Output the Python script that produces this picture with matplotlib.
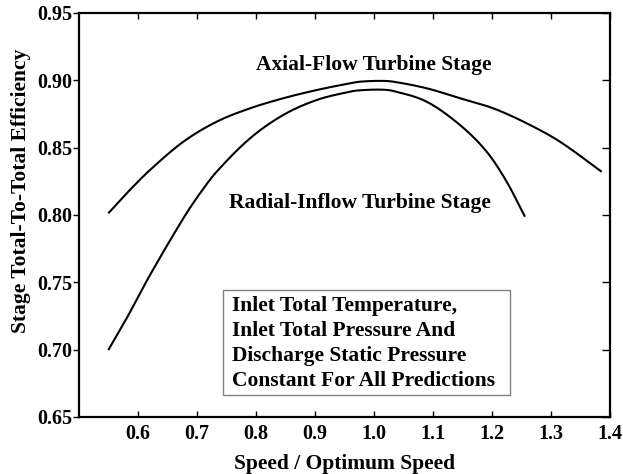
import matplotlib
matplotlib.use("Agg")
import matplotlib.pyplot as plt
from matplotlib.patches import Rectangle
import numpy as np

plt.rcParams['font.family'] = ['Liberation Serif', 'DejaVu Serif']
plt.rcParams['font.weight'] = 'bold'

# Stage efficiency vs. normalised speed
axial_speed = [0.5497, 0.5808, 0.6203, 0.6768, 0.7334, 0.7898, 0.8463, 0.9029, 0.9593,
               0.9763, 1.0102, 1.0327, 1.0893, 1.1458, 1.2022, 1.2588, 1.3153, 1.3859]
axial_eff = [0.8013, 0.8161, 0.8334, 0.8544, 0.8693, 0.8792, 0.8867, 0.8928, 0.8978,
             0.8990, 0.8996, 0.8990, 0.8941, 0.8867, 0.8792, 0.8681, 0.8544, 0.8321]

radial_speed = [0.5497, 0.5808, 0.6203, 0.6768, 0.7051, 0.7334, 0.7898, 0.8463, 0.9029,
                0.9593, 0.9763, 1.0102, 1.0327, 1.0893, 1.1458, 1.1910, 1.2249, 1.2559]
radial_eff = [0.6997, 0.7233, 0.7554, 0.7975, 0.8161, 0.8322, 0.8569, 0.8743, 0.8854,
              0.8916, 0.8926, 0.8931, 0.8921, 0.8841, 0.8668, 0.8470, 0.8247, 0.7987]

x_ticks = [0.6, 0.7, 0.8, 0.9, 1.0, 1.1, 1.2, 1.3, 1.4]
x_tick_labels = ["0.6", "0.7", "0.8", "0.9", "1.0", "1.1", "1.2", "1.3", "1.4"]
y_ticks = [0.65, 0.70, 0.75, 0.80, 0.85, 0.90, 0.95]
y_tick_labels = ["0.65", "0.70", "0.75", "0.80", "0.85", "0.90", "0.95"]

note_lines = ["Inlet Total Temperature,",
              "Inlet Total Pressure And",
              "Discharge Static Pressure",
              "Constant For All Predictions"]


def smooth(xs, ys):
    # cubic Hermite path through the points, for a smooth pen stroke
    xs = np.asarray(xs, float)
    ys = np.asarray(ys, float)
    m = np.zeros_like(ys)
    m[1:-1] = (ys[2:] - ys[:-2]) / (xs[2:] - xs[:-2])
    m[0] = (ys[1] - ys[0]) / (xs[1] - xs[0])
    m[-1] = (ys[-1] - ys[-2]) / (xs[-1] - xs[-2])
    xo, yo = [], []
    for i in range(len(xs) - 1):
        h = xs[i + 1] - xs[i]
        t = np.linspace(0, 1, 20, endpoint=(i == len(xs) - 2))
        h00 = 2 * t**3 - 3 * t**2 + 1
        h10 = t**3 - 2 * t**2 + t
        h01 = -2 * t**3 + 3 * t**2
        h11 = t**3 - t**2
        xo.append(xs[i] + t * h)
        yo.append(h00 * ys[i] + h10 * h * m[i] + h01 * ys[i + 1] + h11 * h * m[i + 1])
    return np.concatenate(xo), np.concatenate(yo)


fig = plt.figure(figsize=(6.23, 4.74), dpi=100)
ax = fig.add_axes([79 / 623, 1 - 417 / 474, (610 - 79) / 623, (417 - 13) / 474])

ax.plot(*smooth(axial_speed, axial_eff), color='black', lw=1.5, solid_capstyle='butt')
ax.plot(*smooth(radial_speed, radial_eff), color='black', lw=1.5, solid_capstyle='butt')

ax.set_xlim(0.5, 1.4)
ax.set_ylim(0.65, 0.95)
ax.set_xticks(x_ticks)
ax.set_xticklabels(x_tick_labels)
ax.set_yticks(y_ticks)
ax.set_yticklabels(y_tick_labels)

for s in ax.spines.values():
    s.set_linewidth(1.6)

ax.tick_params(axis='x', direction='in', top=True, length=4.5, width=1, labelsize=14.5, pad=5)
ax.tick_params(axis='y', direction='out', right=False, length=4.5, width=1, labelsize=14.5, pad=0.5)

sec = ax.secondary_yaxis('right')
sec.set_yticks(y_ticks)
sec.tick_params(direction='in', length=6, width=1, labelright=False)
sec.spines['right'].set_visible(False)

for lbl in ax.get_xticklabels() + ax.get_yticklabels():
    lbl.set_fontweight('bold')

ax.set_xlabel("Speed / Optimum Speed", fontsize=15.5, fontweight='bold', va='top')
ax.xaxis.set_label_coords(0.5, -0.092)
ax.set_ylabel("Stage Total-To-Total Efficiency", fontsize=15.5, fontweight='bold', va='center')
ax.yaxis.set_label_coords(-0.109, 0.56)

ax.text(0.9992, 0.9077, "Axial-Flow Turbine Stage", fontsize=15.5, fontweight='bold',
        ha='center', va='baseline')
ax.text(0.977, 0.805, "Radial-Inflow Turbine Stage", fontsize=15.5, fontweight='bold',
        ha='center', va='baseline')

# note box with the operating conditions
ax.add_patch(Rectangle((0.2712, 0.0545), 0.8117 - 0.2712, 0.3144 - 0.0545,
                       transform=ax.transAxes, facecolor='white', edgecolor='#808080',
                       linewidth=1, zorder=3))
for i, line in enumerate(note_lines):
    ax.text(0.288, 0.2631 - i * 0.0619, line, transform=ax.transAxes, fontsize=15.5,
            fontweight='bold', ha='left', va='baseline', zorder=4)

fig.savefig("out.png", dpi=100)
